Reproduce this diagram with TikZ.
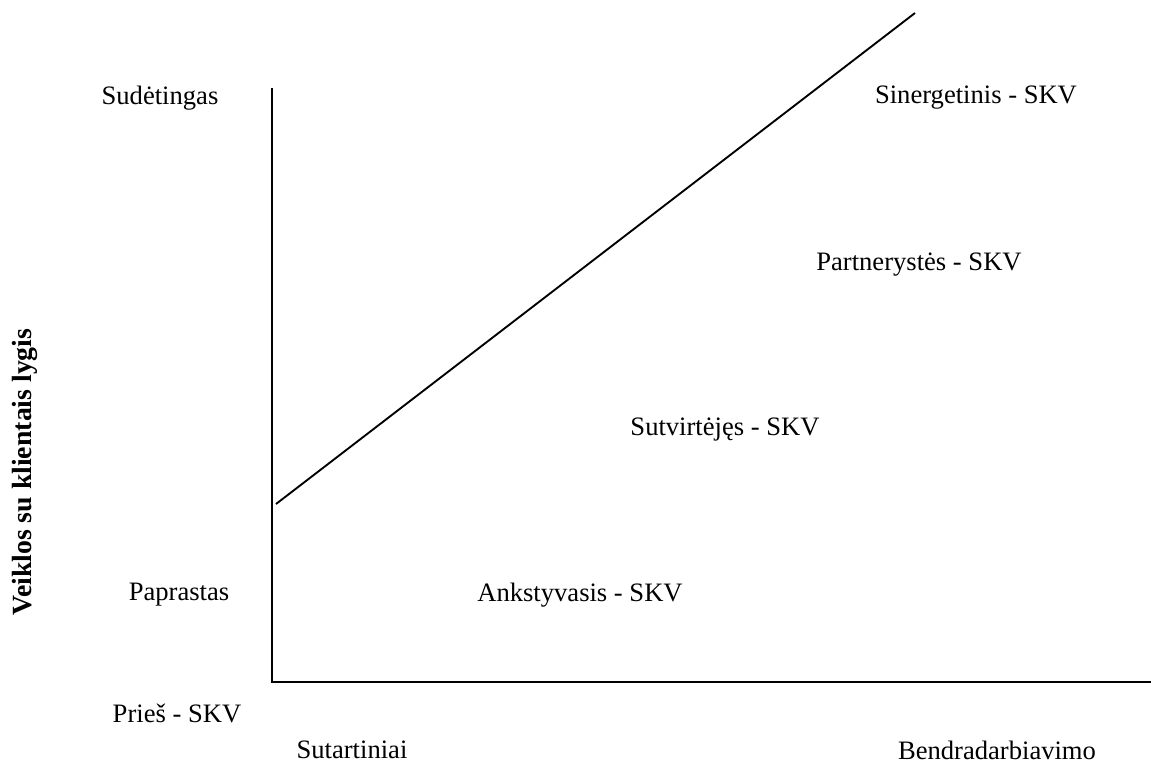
\documentclass[tikz,border=0pt]{standalone}
\usepackage{fontspec}
\setmainfont{Liberation Serif}
\usepackage{tikz}

\begin{document}
\begin{tikzpicture}[x=0.425pt, y=-0.425pt, font=\fontsize{11.3}{13}\selectfont]
      \useasboundingbox (0, 0) rectangle (1151, 764);

      \coordinate (top) at (272, 88);
      \coordinate (origin) at (272, 682);
      \coordinate (right) at (1151, 682);
      \coordinate (start) at (276, 504);
      \coordinate (end) at (915, 13);

      \draw[line width=1.2pt] (top) -- (origin) -- (right);
      \draw[line width=0.8pt] (start) -- (end);

      \node (complex) at (160, 98) {Sudėtingas};
      \node (simple) at (179, 595) {Paprastas};
      \node (pre) at (177, 713) {Prieš - SKV};
      \node[inner sep=0.5pt] (contract) at (352, 750) {Sutartiniai};
      \node[inner sep=0.5pt] (coop) at (997, 750) {Bendradarbiavimo};

      \node (synergy) at (976, 98) {Sinergetinis - SKV};
      \node (partner) at (919, 265) {Partnerystės - SKV};
      \node (strong) at (725, 430) {Sutvirtėjęs - SKV};
      \node (early) at (580, 595) {Ankstyvasis - SKV};

      \node[rotate=90, font=\fontsize{11.8}{14}\selectfont\bfseries] (level) at (25, 472) {Veiklos su klientais lygis};
    \end{tikzpicture}
\end{document}
